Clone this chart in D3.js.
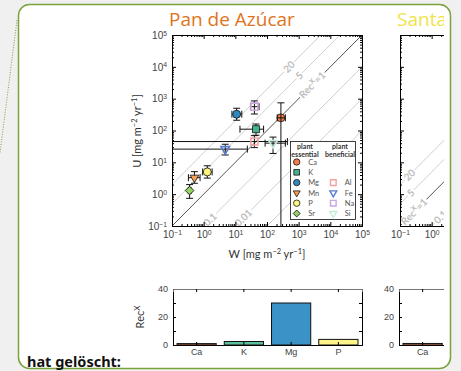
<!DOCTYPE html>
<html>
<head>
<meta charset="utf-8">
<script src="https://cdn.jsdelivr.net/npm/d3@7"></script>
<style>
  html, body { margin: 0; padding: 0; background: #f0f0f0; }
  svg { display: block; font-family: Lato, "DejaVu Sans", sans-serif; }
</style>
</head>
<body>
<svg width="461" height="371"></svg>
<script>
// ---- data: Pan de Azúcar, fluxes in mg m-2 yr-1 ----
const elements = ["Ca", "K", "Mg", "Mn", "P", "Sr", "Al", "Fe", "Na", "Si"];
const wFlux = [275, 45, 11, 0.51, 1.3, 0.36, 40, 4.8, 40, 155];
const wLow  = [210, 14, 7.8, 0.33, 0.93, 0.33, 0.01, 0.01, 30, 87];
const wHigh = [380, 78, 16, 0.77, 1.85, 0.40, 440, 24, 56, 380];
const uFlux = [250, 110, 325, 3.3, 5.0, 1.3, 45, 26, 560, 40];
const uLow  = [0.01, 71, 210, 2.2, 3.2, 0.74, 29, 17, 330, 19];
const uHigh = [740, 160, 500, 5.1, 7.8, 2.0, 69, 37, 850, 62];
const essential = ["Ca", "K", "Mg", "Mn", "P", "Sr"];
const beneficial = ["Al", "Fe", "Na", "Si"];
const elemColors = ["#f47c4c", "#45b08a", "#3288bd", "#f8a154", "#fdf57f", "#96d166",
                    "#f4a1a1", "#5b7bd0", "#c9a6dc", "#c4ecd8"];
const elemShapes = ["circle", "square", "circle", "triDown", "circle", "diamond",
                    "square", "triDown", "square", "triDown"];

// lines of constant Rec^X = U / W
const recLines  = [20, 5, 1, 0.1, 0.01, 0.001];
const recLabels = ["20", "5", "RecX=1", "0.1", "0.01", ""];
const labelW1 = [500, 1050, 2700, 1.6, 18, null];   // where the labels sit (W), panel 1
const labelW2 = [0.2, 0.22, 0.28, 1.9, null, null]; // panel 2

// Rec^X bars
const barCats = ["Ca", "K", "Mg", "P"];
const barRec = [1.0, 2.5, 30, 4.0];
const barColors = ["#e8774a", "#5cbf9c", "#3a92c7", "#fff48a"];
const barCats2 = ["Ca"];
const barRec2 = [1.1];
const barColors2 = ["#f4865a"];

const decades = [0.1, 1, 10, 100, 1e3, 1e4, 1e5];
const recTicks = [0, 10, 20, 30, 40];
const recLabelTicks = [0, 20, 40];

const svg = d3.select("svg");
const visibleRight = 444;

// page background + the card
svg.append("rect").attr("width", 461).attr("height", 371).attr("fill", "#f0f0f0");
svg.append("line")
  .attr("x1", 17).attr("y1", 20).attr("x2", 0).attr("y2", 153)
  .attr("stroke", "#7aa33c").attr("stroke-width", 1).attr("stroke-dasharray", "1,1.5");
svg.append("rect")
  .attr("x", 18.5).attr("y", 4.5).attr("width", 432).attr("height", 364)
  .attr("rx", 11).attr("fill", "white").attr("stroke", "#7aa33c").attr("stroke-width", 1.5);

const defs = svg.append("defs");
defs.append("clipPath").attr("id", "card-clip")
  .append("rect").attr("x", 19).attr("y", 5).attr("width", visibleRight - 19).attr("height", 362);

const content = svg.append("g").attr("clip-path", "url(#card-clip)");

svg.append("text")
  .attr("x", 27).attr("y", 367)
  .attr("font-family", "'Noto Sans', 'Open Sans', sans-serif")
  .attr("font-size", 14.5).attr("font-weight", "bold").attr("fill", "#111")
  .text("hat gelöscht:");

// ---- helpers ----
function symbolPath(shape, size) {
  if (shape === "circle") return d3.symbol(d3.symbolCircle, size)();
  if (shape === "square") return d3.symbol(d3.symbolSquare, size)();
  if (shape === "diamond") return d3.symbol(d3.symbolSquare, size * 0.75)();
  return d3.symbol(d3.symbolTriangle, size * 0.65)();
}
function symbolRotate(shape) {
  if (shape === "triDown") return " rotate(180)";
  if (shape === "diamond") return " rotate(45)";
  return "";
}

function superLabels(sel, show) {
  sel.selectAll(".tick text").each(function(d) {
    const t = d3.select(this);
    if (!show) { t.remove(); return; }
    const e = Math.round(Math.log10(d));
    t.text("10");
    t.append("tspan").attr("dy", "-0.45em").attr("font-size", "0.68em")
      .text(e < 0 ? "\u2212" + (-e) : e);
  });
}

function styleAxis(g) {
  g.select(".domain").attr("stroke", "#000");
  g.selectAll(".tick line").attr("stroke", "#000");
  g.selectAll(".tick text").attr("fill", "#444").attr("font-size", 10);
}

function unitLabel(t, letter) {
  t.text(letter + " [mg m");
  t.append("tspan").attr("dy", -4).attr("font-size", 7.5).text("\u22122");
  t.append("tspan").attr("dy", 4).text(" yr");
  t.append("tspan").attr("dy", -4).attr("font-size", 7.5).text("\u22121");
  t.append("tspan").attr("dy", 4).text("]");
}

function lineLabel(g, x, y, txt) {
  const lg = g.append("g").attr("transform", `translate(${x},${y}) rotate(-45)`);
  const bg = lg.append("rect").attr("fill", "white");
  const t = lg.append("text")
    .attr("text-anchor", "middle").attr("dy", "0.35em")
    .attr("font-size", 10).attr("font-weight", "bold").attr("fill", "#bdbdbd");
  if (txt === "RecX=1") {
    t.text("Rec");
    t.append("tspan").attr("dy", -4).attr("font-size", 7).text("X");
    t.append("tspan").attr("dy", 4).text("=1");
  } else {
    t.text(txt);
  }
  const bb = t.node().getBBox();
  bg.attr("x", bb.x - 1).attr("y", bb.y + 1.5).attr("width", bb.width + 2).attr("height", bb.height - 3);
}

// ---- U vs W panel ----
function drawPanel(x0, clipId, title, titleColor, titleX, labelW, showYLabels, withData) {
  const x = d3.scaleLog().domain([0.1, 1e5]).range([x0, x0 + 190]);
  const y = d3.scaleLog().domain([0.1, 1e5]).range([226, 35]);
  const g = content.append("g");

  defs.append("clipPath").attr("id", clipId)
    .append("rect").attr("x", x0).attr("y", 35).attr("width", 190).attr("height", 191);
  const plot = g.append("g").attr("clip-path", `url(#${clipId})`);

  // constant Rec^X lines
  recLines.forEach((k, i) => {
    plot.append("line")
      .attr("x1", x(0.1 / k)).attr("y1", y(0.1))
      .attr("x2", x(1e5 / k)).attr("y2", y(1e5))
      .attr("stroke", k === 1 ? "#555" : "#cfcfcf").attr("stroke-width", 1);
  });
  recLines.forEach((k, i) => {
    if (labelW[i] == null || !recLabels[i]) return;
    lineLabel(plot, x(labelW[i]), y(labelW[i] * k), recLabels[i]);
  });

  if (withData) {
    const errBars = (i) => {
      const cx = x(wFlux[i]), cy = y(uFlux[i]);
      const eg = plot.append("g").attr("stroke", "#111").attr("stroke-width", 1);
      eg.append("line").attr("x1", x(wLow[i])).attr("x2", x(wHigh[i])).attr("y1", cy).attr("y2", cy);
      eg.append("line").attr("x1", cx).attr("x2", cx).attr("y1", y(uLow[i])).attr("y2", y(uHigh[i]));
      [wLow[i], wHigh[i]].forEach(v => eg.append("line")
        .attr("x1", x(v)).attr("x2", x(v)).attr("y1", cy - 3.5).attr("y2", cy + 3.5));
      [uLow[i], uHigh[i]].forEach(v => eg.append("line")
        .attr("x1", cx - 3.5).attr("x2", cx + 3.5).attr("y1", y(v)).attr("y2", y(v)));
    };
    elements.forEach((el, i) => {
      const open = beneficial.includes(el);
      if (el !== "Ca") errBars(i);
      plot.append("path")
        .attr("d", symbolPath(elemShapes[i], 50))
        .attr("transform", `translate(${x(wFlux[i])},${y(uFlux[i])})` + symbolRotate(elemShapes[i]))
        .attr("fill", open ? "none" : elemColors[i])
        .attr("stroke", open ? elemColors[i] : "#111")
        .attr("stroke-width", open ? 1.6 : 0.8);
      if (el === "Ca") errBars(i);
    });
  }

  // axes: ticks inward on all four sides
  const minors = [];
  decades.slice(0, -1).forEach(d => { for (let m = 2; m < 10; m++) minors.push(d * m); });
  const axes = [
    [d3.axisBottom, `translate(0,226)`, x, true],
    [d3.axisTop, `translate(0,35)`, x, false],
    [d3.axisLeft, `translate(${x0},0)`, y, showYLabels],
    [d3.axisRight, `translate(${x0 + 190},0)`, y, false]
  ];
  axes.forEach(([make, tr, sc, lab]) => {
    const a = g.append("g").attr("transform", tr)
      .call(make(sc).tickValues(decades).tickSize(-4).tickPadding(5));
    superLabels(a, lab);
    styleAxis(a);
    if (make === d3.axisBottom) {
      a.selectAll(".tick").filter(d => sc(d) > visibleRight - 4).select("text").remove();
    }
    const m = g.append("g").attr("transform", tr)
      .call(make(sc).tickValues(minors).tickSize(-2).tickFormat(""));
    m.select(".domain").remove();
    m.selectAll(".tick line").attr("stroke", "#000");
  });

  g.append("text").attr("x", titleX).attr("y", 26)
    .attr("font-family", "'Open Sans', Lato, sans-serif")
    .attr("font-size", 19).attr("fill", titleColor).text(title);

  if (x0 + 95 < visibleRight) {
    const xl = g.append("text").attr("x", x0 + 95).attr("y", 258)
      .attr("text-anchor", "middle").attr("font-size", 11).attr("fill", "#333");
    unitLabel(xl, "W");
  }
  return { x, y, g };
}

drawPanel(172, "plot-1", "Pan de Azúcar", "#e0741c", 169, labelW1, true, true);
drawPanel(400, "plot-2", "Santa", "#f0e34a", 397, labelW2, false, false);

const yl = content.append("text")
  .attr("transform", "translate(141,131) rotate(-90)")
  .attr("text-anchor", "middle").attr("font-size", 11).attr("fill", "#333");
unitLabel(yl, "U");

// ---- legend ----
const leg = content.append("g");
leg.append("rect").attr("x", 290.5).attr("y", 141.5).attr("width", 65).attr("height", 78)
  .attr("fill", "white").attr("stroke", "#111").attr("stroke-width", 0.8);
[["plant", "essential", 305], ["plant", "beneficial", 340]].forEach(([a, b, cx]) => {
  leg.append("text").attr("x", cx).attr("y", 148.5).attr("text-anchor", "middle")
    .attr("font-size", 7).attr("font-weight", "bold").attr("fill", "#333").text(a);
  leg.append("text").attr("x", cx).attr("y", 157).attr("text-anchor", "middle")
    .attr("font-size", 7).attr("font-weight", "bold").attr("fill", "#333").text(b);
});
elements.forEach((el, i) => {
  const ess = essential.includes(el);
  const row = ess ? i : beneficial.indexOf(el) + 2;
  const ry = 162 + row * 10.3;
  const mx = ess ? 296.7 : 333.3;
  leg.append("path")
    .attr("d", symbolPath(elemShapes[i], 32))
    .attr("transform", `translate(${mx},${ry})` + symbolRotate(elemShapes[i]))
    .attr("fill", ess ? elemColors[i] : "none")
    .attr("stroke", ess ? "#111" : elemColors[i])
    .attr("stroke-width", ess ? 0.8 : 1.4);
  leg.append("text").attr("x", mx + 11.5).attr("y", ry).attr("dy", "0.35em")
    .attr("font-size", 7.5).attr("fill", "#555").text(el);
});

// ---- Rec^X bar panels ----
function drawBars(x0, cats, vals, cols) {
  const x = d3.scaleBand().domain(barCats).range([x0, x0 + 189]).paddingInner(0.17).paddingOuter(0.085);
  const y = d3.scaleLinear().domain([0, 40]).range([345, 289]);
  const g = content.append("g");
  g.selectAll("rect.bar").data(cats).join("rect")
    .attr("class", "bar")
    .attr("x", d => x(d)).attr("width", x.bandwidth())
    .attr("y", (d, i) => y(vals[i])).attr("height", (d, i) => y(0) - y(vals[i]))
    .attr("fill", (d, i) => cols[i]).attr("stroke", "#111").attr("stroke-width", 1);

  const left = g.append("g").attr("transform", `translate(${x0},0)`)
    .call(d3.axisLeft(y).tickValues(recTicks).tickSize(-3).tickPadding(5)
      .tickFormat(d => recLabelTicks.includes(d) ? d : ""));
  const right = g.append("g").attr("transform", `translate(${x0 + 189},0)`)
    .call(d3.axisRight(y).tickValues(recTicks).tickSize(-3).tickFormat(""));
  const bottom = g.append("g").attr("transform", "translate(0,345)")
    .call(d3.axisBottom(x).tickSize(-3).tickPadding(4));
  bottom.selectAll(".tick").filter(d => !cats.includes(d)).remove();
  const top = g.append("g").attr("transform", "translate(0,289)")
    .call(d3.axisTop(x).tickSize(-3).tickFormat(""));
  top.selectAll(".tick").filter(d => !cats.includes(d)).remove();
  [left, right, bottom, top].forEach(styleAxis);
  top.select(".domain").attr("stroke", "#777");
  [left, bottom].forEach(a => a.selectAll(".tick text").attr("font-size", 9).attr("fill", "#444"));
}
drawBars(173, barCats, barRec, barColors);
drawBars(399, barCats2, barRec2, barColors2);

const rl = content.append("text")
  .attr("transform", "translate(144,317) rotate(-90)")
  .attr("text-anchor", "middle").attr("font-size", 11).attr("fill", "#333");
rl.text("Rec");
rl.append("tspan").attr("dy", -4).attr("font-size", 8).text("X");
</script>
</body>
</html>
